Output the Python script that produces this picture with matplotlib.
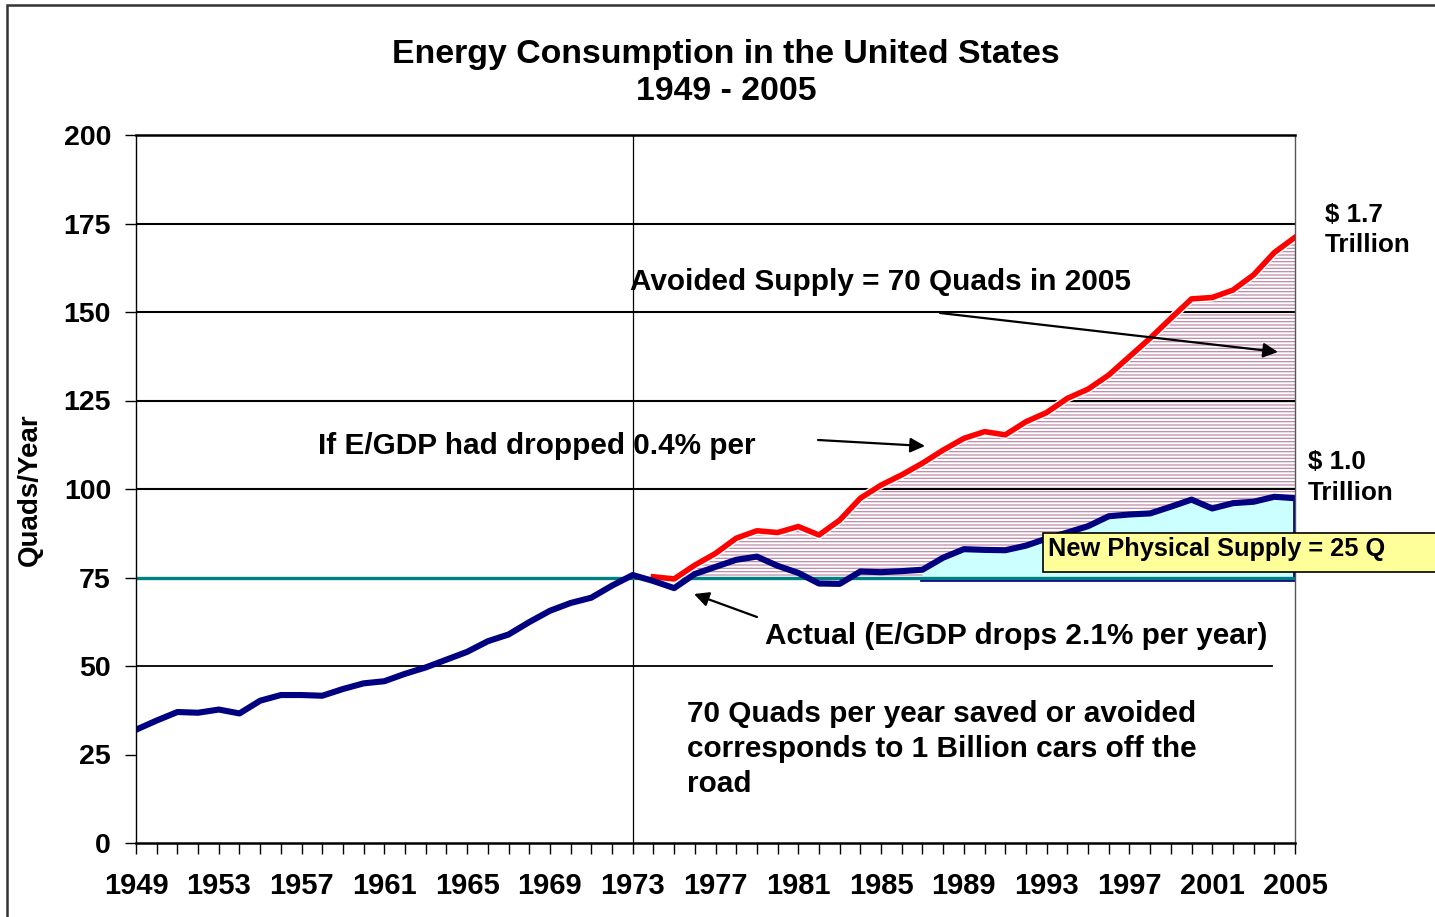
import matplotlib
matplotlib.use("Agg")
import matplotlib.pyplot as plt
from matplotlib.patches import Rectangle
import numpy as np

plt.rcParams['font.family'] = ['Liberation Sans', 'DejaVu Sans']
plt.rcParams['font.weight'] = 'bold'
plt.rcParams['hatch.linewidth'] = 0.9

# ---------------- data ----------------
years_actual = list(range(1949, 2006))
actual = [32.0, 34.6, 37.0, 36.8, 37.7, 36.6, 40.2, 41.8, 41.8, 41.6,
          43.5, 45.1, 45.7, 47.8, 49.6, 51.8, 54.0, 57.0, 58.9, 62.4,
          65.6, 67.8, 69.3, 72.7, 75.7, 74.0, 72.0, 76.0, 78.0, 80.0,
          80.9, 78.3, 76.3, 73.3, 73.2, 76.7, 76.5, 76.8, 77.2, 80.6,
          83.0, 82.8, 82.7, 84.0, 86.0, 87.7, 89.5, 92.3, 92.8, 93.1,
          95.0, 97.0, 94.5, 96.0, 96.4, 97.8, 97.4]

years_projected = list(range(1974, 2006))
projected = [75.2, 74.6, 78.5, 81.8, 86.1, 88.2, 87.7, 89.4, 87.0, 91.2,
             97.4, 101.1, 104.0, 107.3, 111.0, 114.3, 116.2, 115.3, 119.0, 121.6,
             125.6, 128.2, 132.2, 137.4, 142.6, 148.2, 153.7, 154.1, 156.2, 160.5,
             166.8, 171.1]

baseline_1973 = 75
new_supply_start = 1987
y_ticks = [0, 25, 50, 75, 100, 125, 150, 175, 200]
x_tick_labels = list(range(1949, 2006, 4))
grid_full = [100, 125, 150, 175]

# ---------------- figure ----------------
W, H = 1435, 917
fig = plt.figure(figsize=(W / 100, H / 100), dpi=100)
ax = fig.add_axes([136 / W, 1 - 843 / H, (1295 - 136) / W, (843 - 135) / H])

def fx(px):
    return px / W

def fy(py):
    return 1 - py / H

# figure border (left & top visible)
fig.patches.append(Rectangle((fx(7), fy(1000)), fx(1600), fy(5) - fy(1000),
                             transform=fig.transFigure, fill=False,
                             edgecolor='#333333', lw=1.8, zorder=0))

ya = np.array(actual)
yp = np.array(projected)
xa = np.array(years_actual)
xp = np.array(years_projected)

# avoided supply hatch region
ax.fill_between(xp, baseline_1973, yp, facecolor='white', edgecolor='#c08aa8',
                hatch='-----', linewidth=0, zorder=1)

# new physical supply cyan region
mask = xa >= new_supply_start
ax.fill_between(xa[mask], baseline_1973, ya[mask], facecolor='#ccffff',
                edgecolor='none', zorder=2)
ax.plot([new_supply_start, 2005, 2005], [74.6, 74.6, ya[-1]], color='#000080',
        lw=3.4, zorder=3, solid_joinstyle='miter')

# gridlines
for g in grid_full:
    ax.axhline(g, color='black', lw=1.5, zorder=4)
ax.plot([1949, 2003.9], [50, 50], color='black', lw=1.3, zorder=4)
ax.axvline(1973, color='black', lw=0.9, zorder=4)

# baseline 75
ax.axhline(baseline_1973, color='#008080', lw=2.4, zorder=5)

# lines
ax.plot(xp, yp, color='white', lw=6.0, zorder=5.5, solid_capstyle='butt')
ax.plot(xp, yp, color='#ff0000', lw=4.0, zorder=6, solid_joinstyle='round')
ax.plot(xa, ya, color='#000080', lw=4.4, zorder=7, solid_joinstyle='round')

# axes formatting
ax.set_xlim(1949, 2005)
ax.set_ylim(0, 200)
ax.set_yticks(y_ticks)
ax.set_yticklabels([str(v) for v in y_ticks])
ax.set_xticks(x_tick_labels)
ax.set_xticklabels([str(v) for v in x_tick_labels])
ax.set_xticks(years_actual, minor=True)
ax.tick_params(axis='y', direction='out', length=8, width=1, pad=10,
               labelsize=20.5, colors='black')
ax.tick_params(axis='x', which='both', direction='out', length=8, width=1,
               pad=13, labelsize=21)
for lab in ax.get_xticklabels() + ax.get_yticklabels():
    lab.set_fontweight('bold')
ax.spines['left'].set_linewidth(1.0)
ax.spines['bottom'].set_linewidth(1.8)
ax.spines['top'].set_linewidth(1.8)
ax.spines['right'].set_linewidth(1.0)
ax.spines['right'].set_color('#555555')
for s in ax.spines.values():
    s.set_zorder(8)

fig.text(fx(30), fy(490), 'Quads/Year', rotation=90, ha='center', va='center',
         fontsize=20, fontweight='bold')

# title
fig.text(fx(726), fy(54), 'Energy Consumption in the United States',
         ha='center', va='center', fontsize=24.4, fontweight='bold')
fig.text(fx(726), fy(92), '1949 - 2005', ha='center', va='center',
         fontsize=24.4, fontweight='bold')

# annotations
fs = 21.4
def t(px, py, s, size=fs, ha='left'):
    fig.text(fx(px), fy(py), s, ha=ha, va='center', fontsize=size,
             fontweight='bold', zorder=11)

t(630, 282, 'Avoided Supply = 70 Quads in 2005')
t(318, 446, 'If E/GDP had dropped 0.4% per')
t(765, 636, 'Actual (E/GDP drops 2.1% per year)')
t(687, 714, '70 Quads per year saved or avoided')
t(687, 749, 'corresponds to 1 Billion cars off the')
t(687, 784, 'road')
t(1325, 215, '$ 1.7', 18.7)
t(1325, 245, 'Trillion', 18.7)
t(1308, 462, '$ 1.0', 18.7)
t(1308, 493, 'Trillion', 18.7)

# yellow box
fig.patches.append(Rectangle((fx(1043), fy(572)), fx(1450) - fx(1043),
                             fy(533) - fy(572), transform=fig.transFigure,
                             facecolor='#ffff99', edgecolor='black', lw=1.2,
                             zorder=9))
t(1048, 549, 'New Physical Supply = 25 Q', 18.3)

# arrows
aprops = dict(arrowstyle='-|>', color='black', lw=1.6, mutation_scale=22,
              shrinkA=0, shrinkB=0)
def arrow(p0, p1):
    ax.annotate('', xy=(fx(p1[0]), fy(p1[1])), xytext=(fx(p0[0]), fy(p0[1])),
                xycoords='figure fraction', textcoords='figure fraction',
                arrowprops=aprops, zorder=12)

arrow((940, 313), (1278, 352))
arrow((818, 440), (925, 446))
arrow((757, 617), (694, 594))

fig.savefig('out.png', dpi=100, facecolor='white')
